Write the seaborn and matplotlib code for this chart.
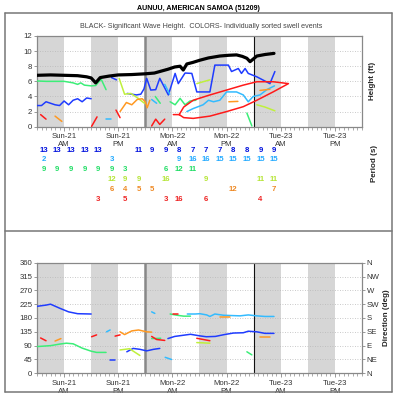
import matplotlib
matplotlib.use("Agg")
import matplotlib.pyplot as plt
import seaborn as sns
import pandas as pd
from matplotlib.lines import Line2D

sns.set_theme(style="white")
plt.rcParams['font.family'] = ['Liberation Sans', 'DejaVu Sans']

# ---------------- text / axis data ----------------
TITLE = "AUNUU, AMERICAN SAMOA (51209)"
SUBTITLE = "BLACK- Significant Wave Height.  COLORS- Individually sorted swell events"
DAY_LABELS = ["Sun-21\nAM", "Sun-21\nPM", "Mon-22\nAM", "Mon-22\nPM", "Tue-23\nAM", "Tue-23\nPM"]
DAY_TICK_HOURS = [6, 18, 30, 42, 54, 66]
SHADE_START_HOURS = [0, 12, 24, 36, 48, 60]
SHADE_LEN = 6
MIDNIGHT_HOURS = [24, 48]
HEIGHT_TICKS = [0, 2, 4, 6, 8, 10, 12]
DIR_TICKS = [0, 45, 90, 135, 180, 225, 270, 315, 360]
DIR_NAMES = ["N", "NE", "E", "SE", "S", "SW", "W", "NW", "N"]

# ---------------- significant wave height (ft) ----------------
HS_HOURS = [0, 3, 6, 9, 11, 12, 13, 14, 16, 18, 21, 24, 26, 27.2, 29, 30.5, 31.7, 32.4,
            33.2, 34.5, 36.1, 38, 40.5, 42.5, 44.2, 45.5, 46.5, 47.2, 48.7, 50.5, 52.5]
HS_FT = [6.8, 6.85, 6.8, 6.75, 6.6, 6.45, 5.8, 6.5, 6.7, 6.85, 6.9, 7.0, 7.1, 7.3, 7.6, 7.9, 8.0, 7.5,
         8.3, 8.5, 8.8, 9.1, 9.35, 9.45, 9.5, 9.3, 9.05, 8.6, 9.35, 9.55, 9.7]

# ---------------- swell heights (hours, ft) per segment ----------------
BLUE_HT = [
    ([0, 1, 2, 3, 4, 5, 6, 7, 8, 9, 10, 11, 12], [2.8, 2.8, 3.3, 3.1, 2.9, 2.8, 3.4, 2.9, 3.5, 3.7, 3.3, 3.8, 3.7]),
    ([16.5, 17.6], [6.5, 6.2]),
    ([20, 21, 22, 23, 23.7, 24.3, 25.2, 26.3, 27.2, 29.1, 30.6, 31.3, 32.8, 34.3, 35.4, 38.3, 39.4, 42.4,
      43.1, 44.6, 45.3, 46.1, 46.8, 48.7, 51.6, 52.7],
     [4.4, 4.3, 4.2, 4.3, 5.0, 6.4, 4.85, 4.9, 6.4, 4.2, 7.05, 5.7, 7.1, 7.05, 4.6, 4.6, 8.15, 8.15,
      7.3, 7.7, 7.05, 7.7, 7.05, 6.6, 5.7, 7.3]),
]
CYAN_HT = [
    ([15.3, 16.3], [1.0, 1.0]),
    ([25.4, 26.5], [3.6, 3.1]),
    ([28.3, 29.4], [5.6, 4.3]),
    ([33.2, 34.6, 36.8, 38, 39.1, 40.5, 42, 44.2, 45.7, 46.8, 47.9, 49.4, 50.9, 52.6],
     [2.0, 2.4, 2.9, 3.5, 3.3, 3.5, 4.6, 4.6, 4.2, 3.3, 4.0, 4.2, 4.9, 5.4]),
]
GREEN_HT = [
    ([0, 2, 4, 6, 7, 8, 9, 9.7, 10.5, 12, 13, 14.2, 15.3],
     [6.05, 6.0, 6.0, 6.0, 5.9, 5.8, 5.6, 5.8, 5.5, 5.4, 5.45, 6.3, 4.9]),
    ([26.2, 27.3], [4.0, 3.1]),
    ([29.5, 30.6, 31.7, 32.8, 33.9, 35.2], [3.3, 2.9, 3.75, 2.9, 3.4, 3.5]),
    ([46.5, 47.6], [1.8, 0.1]),
]
YGREEN_HT = [
    ([18.2, 19.4, 20.8, 22.3, 23.8], [6.4, 4.3, 4.4, 3.8, 3.1]),
    ([35.4, 36.8, 38.3], [5.7, 5.95, 6.2]),
    ([48.7, 50.5, 52.7], [2.9, 2.6, 2.1]),
]
ORANGE_HT = [
    ([4.0, 5.5], [1.4, 0.7]),
    ([18.4, 19.8, 21.0, 22.2, 23.3, 24.0, 24.4, 25.0], [2.0, 3.2, 2.9, 3.6, 3.7, 3.3, 2.5, 3.5]),
    ([42.5, 44.5], [3.3, 3.35]),
    ([49.4, 51.6], [4.8, 4.95]),
]
RED_HT = [
    ([0.8, 2.0], [1.6, 1.0]),
    ([12.1, 13.3], [0.05, 1.3]),
    ([17.5, 18.4], [2.2, 1.2]),
    ([25.4, 26.3, 27.2, 28.3], [0.1, 1.0, 0.3, 1.0]),
    ([30.2, 31.5, 32.5, 34.6, 38.3, 42, 45.7, 48.7, 52.3, 55.7, 52.3, 48.7, 45.7, 42, 38.3, 34.6, 32.5, 31.5],
     [1.6, 1.6, 2.6, 3.5, 4.2, 4.85, 5.5, 5.95, 5.95, 5.7, 4.6, 3.5, 2.65, 2.0, 1.4, 1.1, 1.2, 1.6]),
]

# ---------------- swell directions (hours, deg) per segment ----------------
BLUE_DIR = [
    ([0, 2, 3, 5, 7, 9, 12], [218, 222, 225, 212, 200, 194, 193]),
    ([16.2, 17.3], [43, 43]),
    ([19.9, 21.3, 22.8, 24.3, 25.8, 27.2], [70, 81, 78, 73, 78, 81]),
    ([29, 30.5, 32, 34, 36, 37.5, 39.5, 41.5, 43.5, 45.7, 46.8, 48.7, 50.5, 52.5],
     [113, 120, 123, 127, 122, 119, 120, 126, 131, 132, 137, 135, 130, 130]),
]
CYAN_DIR = [
    ([15.4, 16.2], [135, 141]),
    ([25.4, 26.1], [200, 195]),
    ([28.4, 29.8], [52, 45]),
    ([33.3, 35, 36.1, 37.6, 38.3, 39.4, 41.3, 43, 45, 46.8, 48.7, 50.5, 52.5],
     [193, 193, 194, 190, 185, 193, 189, 188, 187, 190, 187, 185, 185]),
]
GREEN_DIR = [
    ([0, 3, 5, 6.5, 8, 10, 12, 13.2, 15.3], [87, 90, 95, 98, 96, 82, 72, 68, 68]),
    ([25.4, 27.4], [113, 114]),
    ([29.5, 31, 32.5, 34], [193, 189, 186, 186]),
    ([46.5, 47.6], [70, 60]),
]
YGREEN_DIR = [
    ([18.4, 20.5, 22.8], [76, 80, 58]),
    ([35.4, 38.3], [100, 98]),
]
ORANGE_DIR = [
    ([4, 5.3], [105, 113]),
    ([18.4, 19.4, 21, 22.5, 24.3, 25.4], [135, 126, 138, 141, 135, 134]),
    ([40.5, 42.8], [184, 184]),
    ([49.4, 51.6], [119, 119]),
]
RED_DIR = [
    ([0.8, 2], [115, 106]),
    ([12.1, 13.2], [119, 125]),
    ([17.3, 18.4], [121, 125]),
    ([25.4, 26.5, 28.3], [120, 110, 107]),
    ([30.2, 31.3], [193, 193]),
    ([35.4, 38.3], [114, 106]),
]

# ---------------- period table (s), 3-hourly columns ----------------
PERIOD_COL_HOURS = [1.5 + 3 * i for i in range(18)]
N = None
PERIOD_BLUE = [13, 13, 13, 13, 13, N, N, 11, 9, 9, 8, 7, 7, 7, 8, 8, 9, 9]
PERIOD_CYAN = [2, N, N, N, N, 3, N, N, N, N, 9, 16, 16, 15, 15, 15, 15, 15]
PERIOD_GREEN = [9, 9, 9, 9, 9, 9, 3, N, N, 6, 12, 11, N, N, N, N, N, N]
PERIOD_YGREEN = [N, N, N, N, N, 12, 9, 9, N, 16, N, N, 9, N, N, N, 11, 11]
PERIOD_ORANGE = [N, N, N, N, N, 6, 4, 5, 5, N, N, N, N, N, 12, N, N, 7]
PERIOD_RED = [N, N, N, N, 3, N, 5, N, N, 3, 16, N, 6, N, N, N, 4, N]

# ---------------- styles ----------------
C_BLUE, C_CYAN, C_GREEN = "#1f3cff", "#33bbff", "#3cee78"
C_YGREEN, C_ORANGE, C_RED = "#bff03c", "#ff9922", "#ff1a1a"
T_BLUE, T_CYAN, T_GREEN = "#0010dd", "#22aaff", "#22dd66"
T_YGREEN, T_ORANGE, T_RED = "#b5e535", "#ee8822", "#ee2222"
SHADE = "#d6d6d6"
SPINE = "#888888"
TXT = "#333333"

W, H = 398, 400
fig = plt.figure(figsize=(W / 100, H / 100), dpi=100)
fig.patch.set_facecolor("white")


def fx(px):
    return px / W


def fy(py):
    return 1 - py / H


L, R = 37, 362
ax_h = fig.add_axes([fx(L), fy(126.7), fx(R) - fx(L), fy(36) - fy(126.7)])
ax_p = fig.add_axes([fx(L), fy(210), fx(R) - fx(L), fy(140) - fy(210)])
ax_d = fig.add_axes([fx(L), fy(373.3), fx(R) - fx(L), fy(262.7) - fy(373.3)])


def segments_df(segs):
    rows = []
    for i, (hs, vs) in enumerate(segs):
        for j, (h, v) in enumerate(zip(hs, vs)):
            rows.append({"hour": h, "value": v, "seg": i, "order": j})
    return pd.DataFrame(rows)


def decorate(ax, ymax, yticks):
    ax.set_xlim(0, 72)
    ax.set_ylim(0, ymax)
    ax.set_facecolor("white")
    for s in SHADE_START_HOURS:
        ax.axvspan(s, s + SHADE_LEN, color=SHADE, lw=0, zorder=0)
    for y in yticks[1:-1]:
        ax.axhline(y, color="#b8b8b8", lw=0.6, ls=(0, (1, 2)), zorder=0.5)
    ax.axvline(MIDNIGHT_HOURS[0], color="#888888", lw=1.8, zorder=1)
    ax.axvline(MIDNIGHT_HOURS[1], color="#111111", lw=0.8, zorder=1)
    ax.set_yticks(yticks)
    ax.set_xticks(DAY_TICK_HOURS)
    ax.set_xticklabels(DAY_LABELS)
    ax.set_xticks(range(0, 73), minor=True)
    ax.tick_params(axis="x", which="major", length=3, width=0.6, color=SPINE,
                   labelsize=5.6, labelcolor=TXT, pad=1.5, bottom=True)
    ax.tick_params(axis="x", which="minor", length=2, width=0.5, color=SPINE, bottom=True)
    ax.tick_params(axis="y", length=2.5, width=0.6, color=SPINE, labelsize=5.6,
                   labelcolor=TXT, pad=1, left=True)
    for sp in ax.spines.values():
        sp.set_color(SPINE)
        sp.set_linewidth(0.9)
    ax.set_xlabel("")
    ax.set_ylabel("")


# ---------- height panel ----------
decorate(ax_h, 12, HEIGHT_TICKS)
ht_series = [(BLUE_HT, C_BLUE), (CYAN_HT, C_CYAN), (GREEN_HT, C_GREEN),
             (YGREEN_HT, C_YGREEN), (ORANGE_HT, C_ORANGE), (RED_HT, C_RED)]
for segs, col in ht_series:
    df = segments_df(segs)
    sns.lineplot(data=df, x="hour", y="value", units="seg", estimator=None, sort=False,
                 color=col, lw=1.1, ax=ax_h, legend=False, zorder=3)
hs_df = pd.DataFrame({"hour": HS_HOURS, "value": HS_FT})
sns.lineplot(data=hs_df, x="hour", y="value", color="black", lw=2.3, ax=ax_h,
             legend=False, zorder=4)
ax_h.set_xlabel("")
ax_h.set_ylabel("")

# ---------- period panel ----------
ax_p.set_xlim(0, 72)
ax_p.set_ylim(6.12, -1.02)
ax_p.axis("off")
period_rows = [(PERIOD_BLUE, T_BLUE), (PERIOD_CYAN, T_CYAN), (PERIOD_GREEN, T_GREEN),
               (PERIOD_YGREEN, T_YGREEN), (PERIOD_ORANGE, T_ORANGE), (PERIOD_RED, T_RED)]
for r, (vals, col) in enumerate(period_rows):
    for h, v in zip(PERIOD_COL_HOURS, vals):
        if v is not None:
            ax_p.text(h, r, str(v), color=col, fontsize=5.6, fontweight="bold",
                      ha="center", va="center")

# ---------- direction panel ----------
decorate(ax_d, 360, DIR_TICKS)
dir_series = [(BLUE_DIR, C_BLUE), (CYAN_DIR, C_CYAN), (GREEN_DIR, C_GREEN),
              (YGREEN_DIR, C_YGREEN), (ORANGE_DIR, C_ORANGE), (RED_DIR, C_RED)]
for segs, col in dir_series:
    df = segments_df(segs)
    sns.lineplot(data=df, x="hour", y="value", units="seg", estimator=None, sort=False,
                 color=col, lw=1.1, ax=ax_d, legend=False, zorder=3)
ax_d.set_xlabel("")
ax_d.set_ylabel("")
ax_d2 = ax_d.twinx()
ax_d2.set_ylim(0, 360)
ax_d2.set_yticks(DIR_TICKS)
ax_d2.set_yticklabels(DIR_NAMES)
ax_d2.tick_params(axis="y", length=2.5, width=0.6, color=SPINE, labelsize=5.6,
                  labelcolor=TXT, pad=1, right=True)
for sp in ax_d2.spines.values():
    sp.set_visible(False)

# ---------- labels / titles ----------
fig.text(fx(198), fy(8.3), TITLE, ha="center", va="center", fontsize=5.1,
         fontweight="bold", color="black")
fig.text(fx(201), fy(27), SUBTITLE, ha="center", va="center", fontsize=5.1, color="#444444")
fig.text(fx(372), fy(81), "Height (ft)", rotation=90, ha="center", va="center",
         fontsize=5.8, fontweight="bold")
fig.text(fx(375), fy(163), "Period (s)", rotation=90, ha="center", va="center",
         fontsize=5.8, fontweight="bold")
fig.text(fx(386), fy(318), "Direction (deg)", rotation=90, ha="center", va="center",
         fontsize=5.8, fontweight="bold")

# ---------- frame ----------
FRAME = "#777777"
for (x0, y0, x1, y1) in [(5, 12.5, 392, 12.5), (5, 12.5, 5, 392), (392, 12.5, 392, 392),
                         (5, 392, 392, 392), (5, 230.5, 392, 230.5)]:
    fig.add_artist(Line2D([fx(x0), fx(x1)], [fy(y0), fy(y1)], color=FRAME, lw=1.1))

fig.savefig("out.png", dpi=100, facecolor="white")
